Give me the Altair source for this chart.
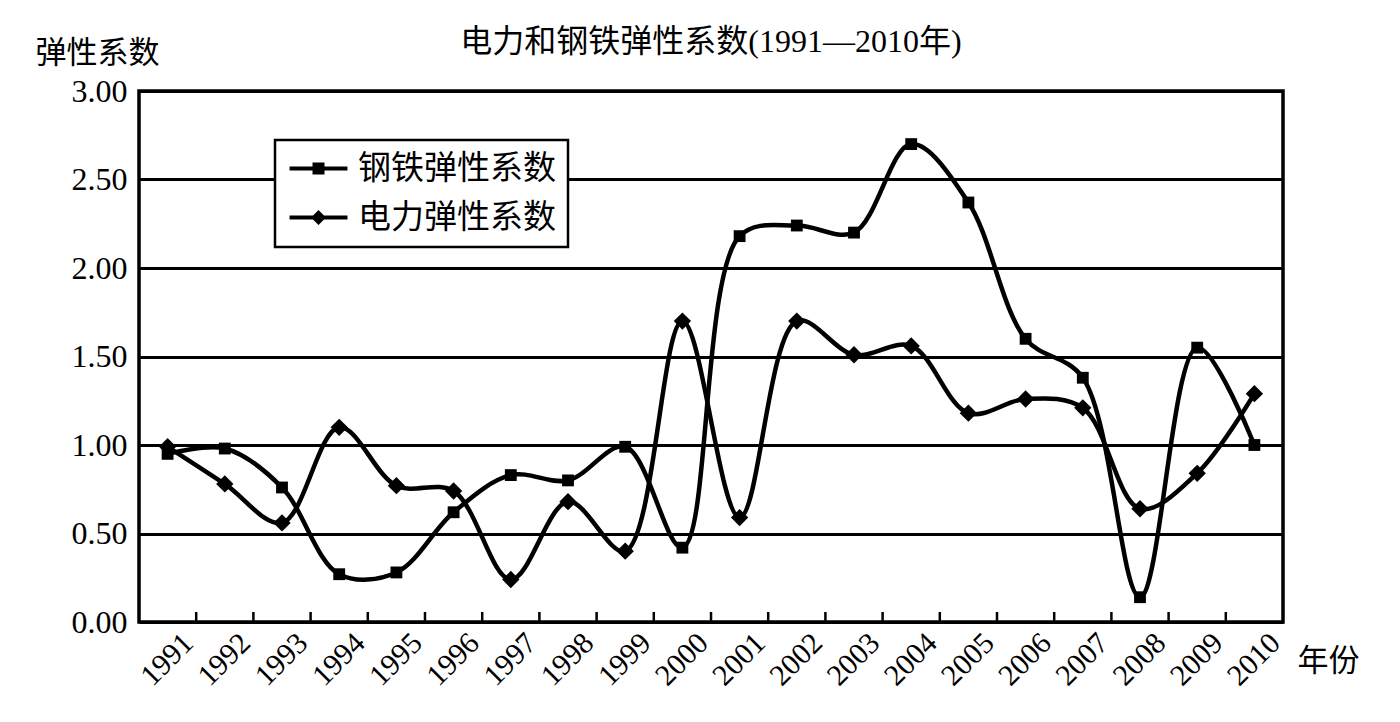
import altair as alt
import pandas as pd

years = ["1991", "1992", "1993", "1994", "1995", "1996", "1997", "1998", "1999", "2000",
         "2001", "2002", "2003", "2004", "2005", "2006", "2007", "2008", "2009", "2010"]
steel = [0.95, 0.98, 0.76, 0.27, 0.28, 0.62, 0.83, 0.80, 0.99, 0.42,
         2.18, 2.24, 2.20, 2.70, 2.37, 1.60, 1.38, 0.14, 1.55, 1.00]
power = [0.99, 0.78, 0.56, 1.10, 0.77, 0.74, 0.24, 0.68, 0.40, 1.70,
         0.59, 1.70, 1.51, 1.56, 1.18, 1.26, 1.21, 0.64, 0.84, 1.29]
series_names = ["钢铁弹性系数", "电力弹性系数"]
y_ticks = [0, 0.5, 1.0, 1.5, 2.0, 2.5, 3.0]

df = pd.DataFrame({
    "year": years + years,
    "value": steel + power,
    "series": [series_names[0]] * len(years) + [series_names[1]] * len(years),
})
tick_df = pd.DataFrame({"year": years[1:]})

FONT = "'Liberation Serif', 'Noto Sans CJK SC'"

xscale = alt.Scale(type="band", domain=years, paddingInner=0, paddingOuter=0)
x_enc = alt.X(
    "year:N", scale=xscale, sort=years, bandPosition=0.5,
    axis=alt.Axis(
        labelAngle=-45, labelAlign="right", labelBaseline="middle",
        labelFontSize=30, labelFont=FONT, labelColor="black",
        labelOffset=21, labelPadding=16,
        ticks=False, domain=False, grid=False,
        title="年份", titleAngle=0, titleX=1158, titleY=39,
        titleAlign="left", titleBaseline="middle",
        titleFontSize=31, titleFont=FONT, titleFontWeight="normal", titleColor="black",
    ),
)
y_enc = alt.Y(
    "value:Q", scale=alt.Scale(domain=[0, 3], nice=False, zero=True),
    axis=alt.Axis(
        values=y_ticks, format=".2f", labelFontSize=32, labelFont=FONT, labelColor="black",
        labelPadding=12, ticks=False, domain=False, grid=True,
        gridColor="black", gridWidth=3, gridOpacity=1,
        title="弹性系数", titleAngle=0, titleX=-104, titleY=-38,
        titleAlign="left", titleBaseline="middle",
        titleFontSize=31, titleFont=FONT, titleFontWeight="normal", titleColor="black",
    ),
)

base = alt.Chart(df)

lines = base.mark_line(interpolate="catmull-rom", strokeWidth=4.5, color="black").encode(
    x=x_enc, y=y_enc, detail="series:N"
)

steel_pts = base.transform_filter(alt.datum.series == series_names[0]).mark_point(
    shape="square", filled=True, size=140, color="black", opacity=1
).encode(x=x_enc, y=y_enc)

power_pts = base.transform_filter(alt.datum.series == series_names[1]).mark_point(
    shape="diamond", filled=True, size=300, color="black", opacity=1
).encode(x=x_enc, y=y_enc)

ticks = alt.Chart(tick_df).mark_rule(color="black", strokeWidth=2.5).encode(
    x=alt.X("year:N", scale=xscale, sort=years, bandPosition=0),
    y=alt.value(521),
    y2=alt.value(531),
)

steel_path = "M-1.93,-0.14H1.93V0.14H-1.93Z M-0.4,-0.4H0.4V0.4H-0.4Z"
power_path = "M-1.93,-0.14H1.93V0.14H-1.93Z M0,-0.5L0.5,0L0,0.5L-0.5,0Z"

legend_layer = base.transform_filter("false").mark_point(
    filled=True, color="black", opacity=1
).encode(
    shape=alt.Shape(
        "series:N",
        scale=alt.Scale(domain=series_names, range=[steel_path, power_path]),
        legend=alt.Legend(
            orient="none", legendX=136, legendY=49, title=None,
            labelFont=FONT, labelFontSize=33, labelColor="black", labelLimit=500,
            labelOffset=23, symbolOffset=15, padding=12, rowPadding=15,
            symbolSize=900, symbolFillColor="black", symbolStrokeColor="black",
            symbolStrokeWidth=0, symbolOpacity=1,
            fillColor="white", strokeColor="black",
        ),
    )
)

chart = alt.layer(lines, steel_pts, power_pts, ticks, legend_layer).properties(
    width=1144,
    height=531,
    autosize=alt.AutoSizeParams(type="none"),
    padding={"left": 139, "top": 91, "right": 117, "bottom": 100},
    title=alt.TitleParams(
        "电力和钢铁弹性系数(1991—2010年)", fontSize=32, font=FONT, fontWeight="normal",
        color="black", anchor="middle", baseline="bottom", offset=-54,
    ),
    background="white",
).configure_view(
    stroke="black", strokeWidth=3.5
).configure_legend(
    strokeWidth=2.5
)

chart.save("out.html", embed_options={"renderer": "svg", "actions": False})
